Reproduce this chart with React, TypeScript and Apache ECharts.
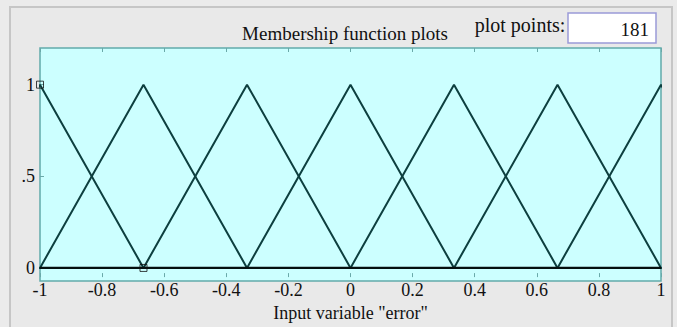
import React, { useEffect, useRef } from "react";
import * as echarts from "echarts";

// Triangular membership functions [a, b, c] for input variable "error"
const mfParams: number[][] = [
  [-1.3333, -1, -0.6667],
  [-1, -0.6667, -0.3333],
  [-0.6667, -0.3333, 0],
  [-0.3333, 0, 0.3333],
  [0, 0.3333, 0.6667],
  [0.3333, 0.6667, 1],
  [0.6667, 1, 1.3333],
];
const xRange = [-1, 1];
const yTickValues = [0, 0.5, 1];
const yTickLabels = ["0", ".5", "1"];
const selectedPoints: number[][] = [
  [-1, 1],
  [-0.6667, 0],
];
const plotPoints = "181";

export default function App() {
  const ref = useRef<HTMLDivElement>(null);
  useEffect(() => {
    const chart = echarts.init(ref.current!, null, { renderer: "svg" });
    const font = "'Liberation Serif', 'Times New Roman', serif";
    const lineColor = "#0d3f3f";
    const tickColor = "#6aa9a9";
    const mfSeries = mfParams.map((p) => ({
      type: "line",
      data: [
        [xRange[0] - 1, 0],
        [p[0], 0],
        [p[1], 1],
        [p[2], 0],
        [xRange[1] + 1, 0],
      ],
      symbol: "none",
      lineStyle: { color: lineColor, width: 2 },
      clip: true,
      z: 3,
    }));
    chart.setOption({
      animation: false,
      backgroundColor: "#ebebeb",
      grid: { left: 40, right: 16, top: 48, bottom: 46 },
      xAxis: [
        {
          type: "value",
          min: xRange[0],
          max: xRange[1],
          interval: 0.2,
          axisLine: { show: false, onZero: false },
          axisTick: { show: true, inside: true, length: 4, lineStyle: { color: tickColor } },
          axisLabel: { color: "#111", fontFamily: font, fontSize: 18, margin: 4 },
          splitLine: { show: false },
          name: 'Input variable "error"',
          nameLocation: "middle",
          nameGap: 22,
          nameTextStyle: { color: "#111", fontFamily: font, fontSize: 18 },
        },
        {
          type: "value",
          position: "top",
          min: xRange[0],
          max: xRange[1],
          interval: 0.2,
          axisLine: { show: false, onZero: false },
          axisTick: { show: true, inside: true, length: 4, lineStyle: { color: tickColor } },
          axisLabel: { show: false },
          splitLine: { show: false },
        },
      ],
      yAxis: {
        type: "value",
        min: -0.05,
        max: 1.2,
        axisLine: { show: false, onZero: false },
        axisTick: {
          show: true,
          inside: true,
          length: 4,
          customValues: yTickValues,
          lineStyle: { color: tickColor },
        },
        axisLabel: {
          customValues: yTickValues,
          formatter: (v: number) => yTickLabels[yTickValues.indexOf(v)] ?? "",
          color: "#111",
          fontFamily: font,
          fontSize: 18,
          margin: 5,
        },
        splitLine: { show: false },
      },
      graphic: [
        {
          type: "rect",
          z: -10,
          shape: { x: 10, y: 7, width: 662, height: 330 },
          style: { fill: "#e9e9e9", stroke: "#c6c6c6", lineWidth: 2 },
          silent: true,
        },
        {
          type: "rect",
          z: -5,
          shape: { x: 40, y: 48, width: 621, height: 233 },
          style: { fill: "#ccffff", stroke: "#62aaaa", lineWidth: 1.5 },
          silent: true,
        },
        {
          type: "text",
          x: 345,
          y: 33,
          style: {
            text: "Membership function plots",
            fill: "#111",
            font: `19px ${font}`,
            align: "center",
            verticalAlign: "middle",
          },
        },
        {
          type: "text",
          x: 520,
          y: 25,
          style: {
            text: "plot points:",
            fill: "#111",
            font: `20px ${font}`,
            align: "center",
            verticalAlign: "middle",
          },
        },
        {
          type: "rect",
          shape: { x: 568, y: 13, width: 88, height: 30 },
          style: { fill: "#ffffff", stroke: "#9a9ad8", lineWidth: 1.5 },
        },
        {
          type: "text",
          x: 649,
          y: 29,
          style: {
            text: plotPoints,
            fill: "#111",
            font: `19px ${font}`,
            align: "right",
            verticalAlign: "middle",
          },
        },
      ],
      series: [
        ...mfSeries,
        {
          type: "line",
          data: [
            [xRange[0], 0],
            [xRange[1], 0],
          ],
          symbol: "none",
          lineStyle: { color: "#050f0f", width: 2.2 },
          z: 4,
        },
        {
          type: "scatter",
          data: selectedPoints,
          symbol: "rect",
          symbolSize: 7,
          itemStyle: { color: "rgba(0,0,0,0)", borderColor: "#111", borderWidth: 1 },
          clip: false,
          z: 5,
        },
      ],
    });
    return () => chart.dispose();
  }, []);
  return (
    <div
      ref={ref}
      style={{ position: "fixed", left: 0, top: 0, width: 677, height: 327 }}
    />
  );
}
